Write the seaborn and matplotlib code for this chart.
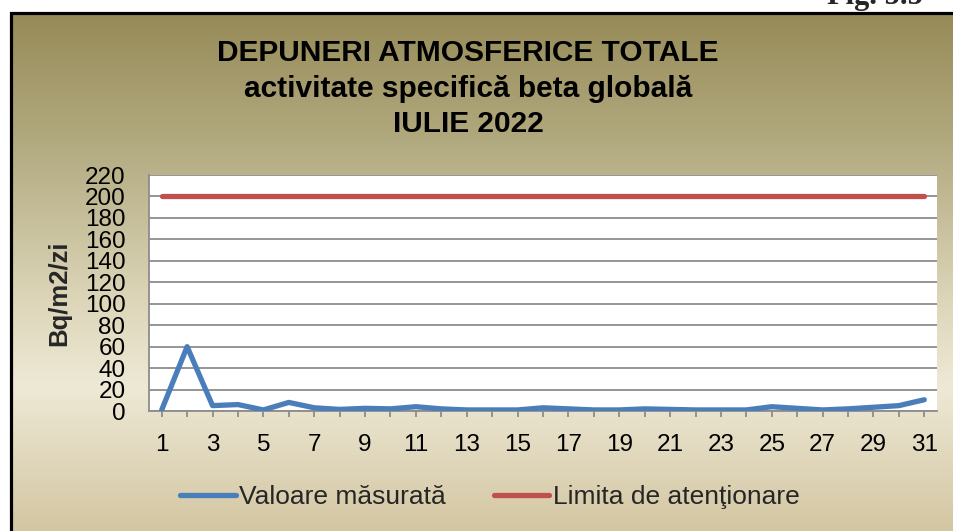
import numpy as np
import pandas as pd
import matplotlib
matplotlib.use('Agg')
import matplotlib.pyplot as plt
from matplotlib.colors import LinearSegmentedColormap
from matplotlib.patches import Rectangle
import seaborn as sns

# ---- date ----
zile = list(range(1, 32))
valoare_masurata = [1, 60, 5, 6, 1, 8, 3, 1.5, 2.5, 2, 4, 2, 1, 1, 1, 3, 2, 1, 1, 2,
                    1.5, 1, 1, 1, 4, 2.5, 1, 2, 3.5, 5, 10.5]
limita_atentionare = [200, 200, 200, 200, 200, 200, 200, 200, 200, 200, 200, 200, 200,
                      200, 200, 200, 200, 200, 200, 200, 200, 200, 200, 200, 200, 200,
                      200, 200, 200, 200, 200]
serii = ['Valoare măsurată', 'Limita de atenţionare']
titlu = ['DEPUNERI ATMOSFERICE TOTALE', 'activitate specifică beta globală', 'IULIE 2022']
y_ticks = list(range(0, 221, 20))
x_ticks = list(range(1, 32, 2))

df = pd.DataFrame({
    'zi': zile + zile,
    'valoare': valoare_masurata + limita_atentionare,
    'serie': [serii[0]] * len(zile) + [serii[1]] * len(zile),
})

# ---- stil ----
sns.set_style('white')
plt.rcParams['font.family'] = ['Liberation Sans', 'DejaVu Sans']

W, H = 954, 531
fig = plt.figure(figsize=(W / 100, H / 100), dpi=100)
fig.patch.set_facecolor('white')

# fundal cu gradient
bg = fig.add_axes([13 / W, 0, 1 - 13 / W, 1 - 15 / H], zorder=-2)
cmap = LinearSegmentedColormap.from_list('parchment', [
    (0.0, '#978B58'), (0.25, '#B2AA80'), (0.55, '#DCD5B8'),
    (0.72, '#EEE9D6'), (1.0, '#D3C6A2')])
grad = np.linspace(0, 1, 256).reshape(-1, 1)
bg.imshow(grad, aspect='auto', cmap=cmap, extent=[0, 1, 0, 1])
bg.set_axis_off()

# chenar negru
fig.patches.append(Rectangle((11.5 / W, -0.1), 1.2, 1.1 - 13.5 / H,
                             transform=fig.transFigure, fill=False,
                             edgecolor='black', linewidth=2.3, zorder=5))

ax = fig.add_axes([149 / W, 1 - 411 / H, (937 - 149) / W, (411 - 175) / H])
ax.set_facecolor('white')

sns.lineplot(data=df, x='zi', y='valoare', hue='serie', hue_order=serii,
             palette=['#4A7EBB', '#C0504D'], linewidth=3.8,
             solid_capstyle='round', ax=ax, legend=True, zorder=3)

ax.set_xlim(0.5, 31.5)
ax.set_ylim(0, 220)
ax.set_yticks(y_ticks)
ax.set_xticks(zile)
ax.set_xticklabels([str(z) if z in x_ticks else '' for z in zile])
ax.set_xlabel('')
ax.set_ylabel('')
ax.grid(axis='y', color='#8C8C8C', linewidth=1.3, zorder=1)
ax.set_axisbelow(True)
for s in ['top', 'right']:
    ax.spines[s].set_visible(False)
for s in ['left', 'bottom']:
    ax.spines[s].set_color('#8C8C8C')
    ax.spines[s].set_linewidth(1.3)
ax.tick_params(axis='y', length=0, pad=17, labelsize=17.5, colors='black')
ax.tick_params(axis='x', length=4.3, width=1.3, color='#8C8C8C', pad=12,
               labelsize=17.5, labelcolor='black', direction='out', bottom=True)

# legenda
handles, labels = ax.get_legend_handles_labels()
ax.get_legend().remove()
fig.legend(handles, labels, loc='center', bbox_to_anchor=(490 / W, 1 - 497 / H),
           ncol=2, frameon=False, fontsize=19, handlelength=2.1,
           handletextpad=0.15, columnspacing=1.8)

# titlu
for txt, yb in zip(titlu, [61, 97, 132]):
    fig.text(468 / W, 1 - yb / H, txt, ha='center', va='baseline',
             fontsize=21.5, fontweight='bold', color='black')

fig.text(59 / W, 1 - 293 / H, 'Bq/m2/zi', rotation=90, ha='center', va='center',
         fontsize=18.5, fontweight='bold')

fig.text(827 / W, 1 - 4 / H, 'Fig. 5.5', ha='left', va='baseline',
         fontsize=22, fontweight='bold', family=['Liberation Serif', 'DejaVu Serif'])

fig.savefig('out.png', dpi=100)
